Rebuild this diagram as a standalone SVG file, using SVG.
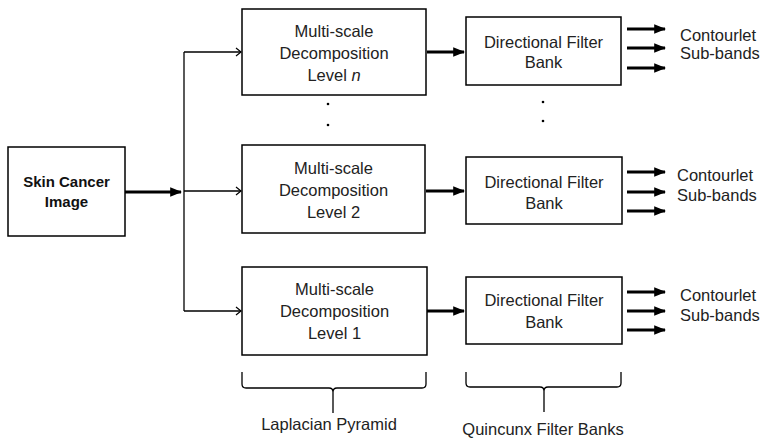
<svg xmlns="http://www.w3.org/2000/svg" width="763" height="440" viewBox="0 0 763 440">
<defs>
<marker id="thick" markerWidth="4" markerHeight="4" refX="3.6" refY="2" orient="auto" markerUnits="strokeWidth"><path d="M0,0.4 L4,2 L0,3.6 Z" fill="#000"/></marker>
<marker id="open" markerWidth="10" markerHeight="10" refX="8" refY="5" orient="auto" markerUnits="userSpaceOnUse"><path d="M3,1 L8,5 L3,9" fill="none" stroke="#000" stroke-width="1.2"/></marker>
<style>
.box{fill:#fff;stroke:#000;stroke-width:1.5}
.t{font-family:"Liberation Sans",Arial,sans-serif;font-size:16.5px;fill:#222;text-anchor:middle}
.tl{font-family:"Liberation Sans",Arial,sans-serif;font-size:16.5px;fill:#222}
.b{font-family:"Liberation Sans",Arial,sans-serif;font-size:15px;font-weight:bold;fill:#111;text-anchor:middle}
.thk{stroke:#000;stroke-width:3;fill:none;marker-end:url(#thick)}
.thn{stroke:#000;stroke-width:1.3;fill:none}
.arr{stroke:#000;stroke-width:1.3;fill:none;marker-end:url(#open)}
.br{stroke:#000;stroke-width:1.3;fill:none}
.dot{fill:#000}
</style>
</defs>
<rect width="763" height="440" fill="#fff"/>

<g id="connectors">
<path class="thk" d="M125,192 L181,192"/>
<path class="thn" d="M184,52 L184,311"/>
<path class="arr" d="M184,52 L241,52"/>
<path class="arr" d="M184,191 L241,191"/>
<path class="arr" d="M184,311 L241,311"/>
<path class="thk" d="M427,52 L464,52"/>
<path class="thk" d="M426,191 L464,191"/>
<path class="thk" d="M427,311 L464,311"/>
<path class="thk" d="M627,29 L665,29"/>
<path class="thk" d="M627,48 L665,48"/>
<path class="thk" d="M627,68 L665,68"/>
<path class="thk" d="M627,172 L665,172"/>
<path class="thk" d="M627,192 L665,192"/>
<path class="thk" d="M627,211 L665,211"/>
<path class="thk" d="M627,292 L665,292"/>
<path class="thk" d="M627,311 L665,311"/>
<path class="thk" d="M627,330 L665,330"/>
</g>

<g id="skin">
<rect class="box" x="8" y="147" width="117" height="89"/>
<text class="b" x="66.5" y="187">Skin Cancer</text>
<text class="b" x="66.5" y="207">Image</text>
</g>

<g id="msd-n">
<rect class="box" x="242" y="9" width="184" height="86"/>
<text class="t" x="334" y="37">Multi-scale</text>
<text class="t" x="334" y="59">Decomposition</text>
<text class="t" x="334" y="81">Level <tspan font-style="italic">n</tspan></text>
</g>

<g id="msd-2">
<rect class="box" x="242" y="145" width="183" height="88"/>
<text class="t" x="333.5" y="174">Multi-scale</text>
<text class="t" x="333.5" y="196">Decomposition</text>
<text class="t" x="333.5" y="218">Level 2</text>
</g>

<g id="msd-1">
<rect class="box" x="242" y="267" width="185" height="88"/>
<text class="t" x="334.5" y="295">Multi-scale</text>
<text class="t" x="334.5" y="317">Decomposition</text>
<text class="t" x="334.5" y="339">Level 1</text>
</g>

<g id="dfb-n">
<rect class="box" x="466" y="17" width="155" height="68"/>
<text class="t" x="543.5" y="48">Directional Filter</text>
<text class="t" x="543.5" y="68">Bank</text>
</g>

<g id="dfb-2">
<rect class="box" x="466" y="157" width="156" height="67"/>
<text class="t" x="544" y="188">Directional Filter</text>
<text class="t" x="544" y="209">Bank</text>
</g>

<g id="dfb-1">
<rect class="box" x="466" y="277" width="156" height="67"/>
<text class="t" x="544" y="306">Directional Filter</text>
<text class="t" x="544" y="328">Bank</text>
</g>

<g id="out-n">
<text class="tl" x="680" y="41">Contourlet</text>
<text class="tl" x="680" y="59">Sub-bands</text>
</g>
<g id="out-2">
<text class="tl" x="677" y="181">Contourlet</text>
<text class="tl" x="677" y="201">Sub-bands</text>
</g>
<g id="out-1">
<text class="tl" x="680" y="301">Contourlet</text>
<text class="tl" x="680" y="321">Sub-bands</text>
</g>

<g id="dots">
<circle class="dot" cx="328" cy="104" r="1.3"/>
<circle class="dot" cx="328" cy="125" r="1.3"/>
<circle class="dot" cx="543" cy="102" r="1.3"/>
<circle class="dot" cx="543" cy="121" r="1.3"/>
</g>

<g id="laplacian">
<path class="br" d="M242,372 L242,384 Q242,388 246,388 L329,388 Q333,388 333,392 L333,413 M333,392 Q333,388 337,388 L422,388 Q426,388 426,384 L426,372"/>
<text class="t" x="329" y="430">Laplacian Pyramid</text>
</g>

<g id="quincunx">
<path class="br" d="M466,372 L466,383 Q466,387 470,387 L540,387 Q544,387 544,391 L544,412 M544,391 Q544,387 548,387 L617,387 Q621,387 621,383 L621,372"/>
<text class="t" x="543" y="435">Quincunx Filter Banks</text>
</g>
</svg>
